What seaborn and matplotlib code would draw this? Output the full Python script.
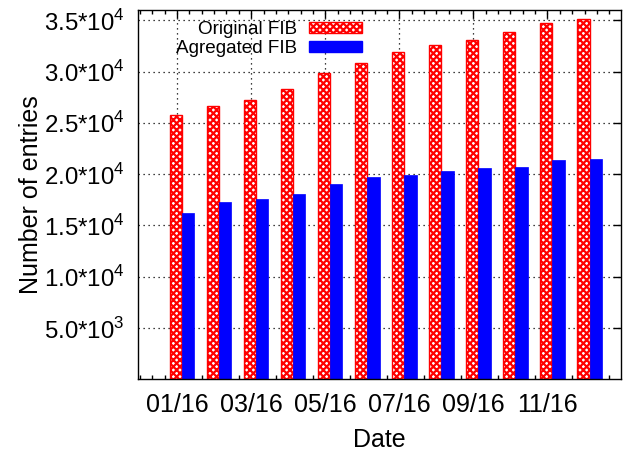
import numpy as np
import pandas as pd
import matplotlib
matplotlib.use("Agg")
import matplotlib.pyplot as plt
import seaborn as sns
from matplotlib.patches import Patch
from matplotlib.ticker import FixedLocator

months = ["01/16", "02/16", "03/16", "04/16", "05/16", "06/16",
          "07/16", "08/16", "09/16", "10/16", "11/16", "12/16"]
original_fib = [25800, 26600, 27200, 28300, 29900, 30800,
                31900, 32600, 33100, 33900, 34700, 35100]
aggregated_fib = [16200, 17300, 17600, 18100, 19000, 19700,
                  19900, 20300, 20600, 20700, 21400, 21500]
series_names = ["Original FIB", "Agregated FIB"]
ytick_values = [5000, 10000, 15000, 20000, 25000, 30000, 35000]
ytick_labels = [r"5.0*10$^{\mathregular{3}}$", r"1.0*10$^{\mathregular{4}}$",
                r"1.5*10$^{\mathregular{4}}$", r"2.0*10$^{\mathregular{4}}$",
                r"2.5*10$^{\mathregular{4}}$", r"3.0*10$^{\mathregular{4}}$",
                r"3.5*10$^{\mathregular{4}}$"]
xtick_labels = ["01/16", "03/16", "05/16", "07/16", "09/16", "11/16"]

sns.set_theme(style="white")
plt.rcParams["font.family"] = ["Liberation Sans", "DejaVu Sans"]
plt.rcParams["hatch.linewidth"] = 1.6
plt.rcParams["text.color"] = "black"
plt.rcParams["axes.labelcolor"] = "black"
plt.rcParams["xtick.color"] = "black"
plt.rcParams["ytick.color"] = "black"

df = pd.DataFrame({
    "month": months * 2,
    "entries": original_fib + aggregated_fib,
    "series": [series_names[0]] * len(months) + [series_names[1]] * len(months),
})

fig = plt.figure(figsize=(6.29, 4.57), dpi=100)
ax = fig.add_axes([138 / 629, 1 - 379.3 / 457, (621 - 138) / 629, (379.3 - 10) / 457])

sns.barplot(data=df, x="month", y="entries", hue="series", order=months,
            hue_order=series_names, palette=["red", "blue"], width=0.66,
            saturation=1, ax=ax, legend=False)

n = len(months)
for i, p in enumerate(ax.patches[:2 * n]):
    if i < n:
        p.set_facecolor("white")
        p.set_edgecolor("red")
        p.set_hatch("xxxxx")
        p.set_linewidth(1.0)
    else:
        p.set_facecolor("blue")
        p.set_edgecolor("blue")
        p.set_linewidth(0.5)

ax.set_xlim(-1.19, 11.85)
ax.set_ylim(0, 36000)

major_x = np.arange(0, 12, 2) - 0.135
ax.xaxis.set_major_locator(FixedLocator(major_x))
ax.set_xticklabels(xtick_labels)
minor_x = np.arange(-1.19, 11.86, 1 / 3.0) + ((-0.135 + 1.19) % (1 / 3.0))
ax.xaxis.set_minor_locator(FixedLocator(minor_x))
ax.set_yticks(ytick_values)
ax.set_yticklabels(ytick_labels)

ax.tick_params(axis="both", which="major", direction="in", length=6, width=1,
               top=True, right=True, colors="black")
ax.tick_params(axis="x", which="major", pad=10, labelsize=18)
ax.tick_params(axis="y", which="major", pad=10, labelsize=17.3)
ax.tick_params(axis="x", which="minor", direction="in", length=3, width=1,
               top=True, bottom=True)

ax.grid(True, which="major", color="black", linestyle=(0, (1, 3)), linewidth=0.9)
ax.set_axisbelow(True)
for s in ax.spines.values():
    s.set_color("black")
    s.set_linewidth(1.0)
    s.set_visible(True)

ax.set_xlabel("Date", fontsize=18, labelpad=8, color="black")
ax.set_ylabel("Number of entries", fontsize=18, color="black")
ax.yaxis.set_label_coords(-0.197, 0.5)

handles = [Patch(facecolor="white", edgecolor="red", hatch="xxxxx", linewidth=1.0),
           Patch(facecolor="blue", edgecolor="blue")]
ax.legend(handles=handles, labels=series_names, loc="upper right",
          bbox_to_anchor=(0.464, 0.97), frameon=False, markerfirst=False,
          fontsize=13.6, handlelength=2.8, handleheight=0.55,
          handletextpad=0.65, labelspacing=0.12, borderpad=0, borderaxespad=0,
          labelcolor="black")

fig.savefig("out.png", dpi=100)
